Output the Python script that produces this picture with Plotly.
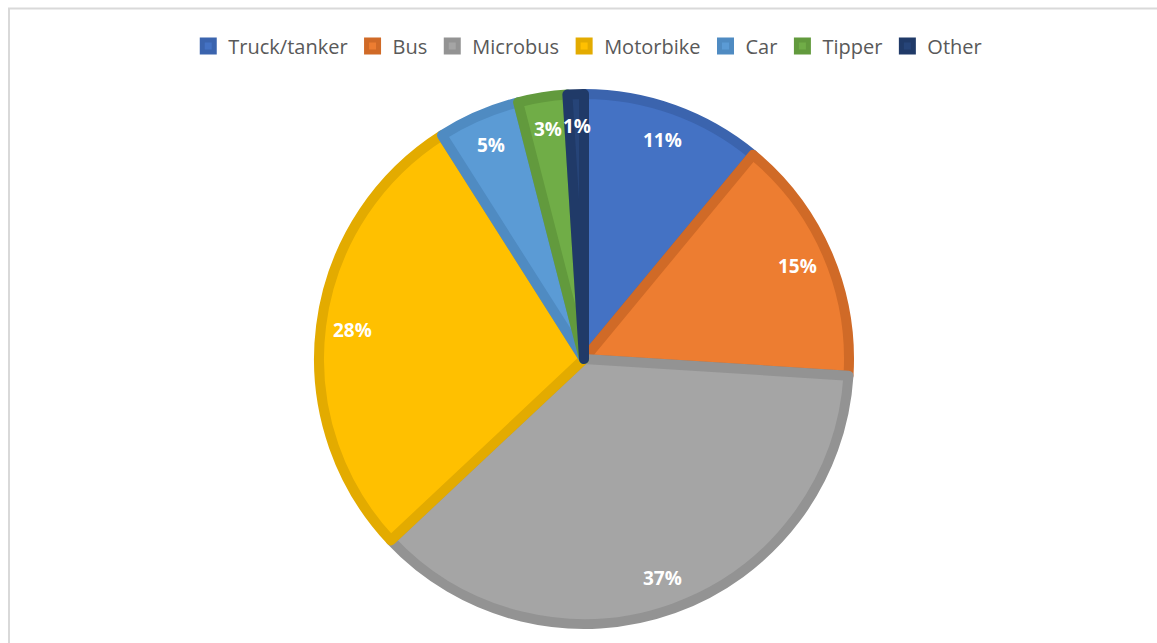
import math
import plotly.graph_objects as go

# Share of vehicles by type (percent)
categories = ["Truck/tanker", "Bus", "Microbus", "Motorbike", "Car", "Tipper", "Other"]
shares = [11, 15, 37, 28, 5, 3, 1]

fill_colors = ["#4472C4", "#ED7D31", "#A5A5A5", "#FFC000", "#5B9BD5", "#70AD47", "#264478"]
edge_colors = ["#3B64AE", "#D06A27", "#939393", "#E3AB00", "#4F8BC2", "#629A3D", "#203A68"]

W, H = 1157, 643
cx, cy, r = 584, 359, 265

fig = go.Figure()
fig.add_trace(go.Pie(
    labels=categories,
    values=shares,
    sort=False,
    direction="clockwise",
    rotation=0,
    textinfo="none",
    hoverinfo="label+percent",
    marker=dict(colors=fill_colors, line=dict(color=edge_colors, width=10)),
    domain=dict(x=[(cx - r) / W, (cx + r) / W], y=[1 - (cy + r) / H, 1 - (cy - r) / H]),
))

# Percentage labels placed near the outer rim of each slice
total = sum(shares)
label_r = 233
cum = 0
for v in shares:
    mid = (cum + v / 2) / total * 2 * math.pi
    cum += v
    px = cx + label_r * math.sin(mid)
    py = cy - label_r * math.cos(mid)
    fig.add_annotation(
        x=px / W, y=1 - py / H, xref="paper", yref="paper",
        xanchor="center", yanchor="middle",
        text=f"{round(v / total * 100)}%", showarrow=False,
        font=dict(family="Open Sans", size=19, color="white", weight="bold"),
    )

# Chart area frame
fig.add_shape(type="rect", xref="paper", yref="paper",
              x0=9 / W, x1=1.05, y0=-0.05, y1=1 - 8.5 / H,
              line=dict(color="#D9D9D9", width=2), fillcolor="rgba(0,0,0,0)")

fig.update_layout(
    width=W, height=H,
    margin=dict(l=0, r=0, t=0, b=0),
    paper_bgcolor="white",
    plot_bgcolor="white",
    showlegend=True,
    legend=dict(
        orientation="h", x=0.508, xanchor="center", y=1 - 46 / H, yanchor="middle",
        font=dict(family="Open Sans", size=20, color="#595959"),
        itemwidth=30, traceorder="normal",
    ),
)

fig.write_html("out.html")
